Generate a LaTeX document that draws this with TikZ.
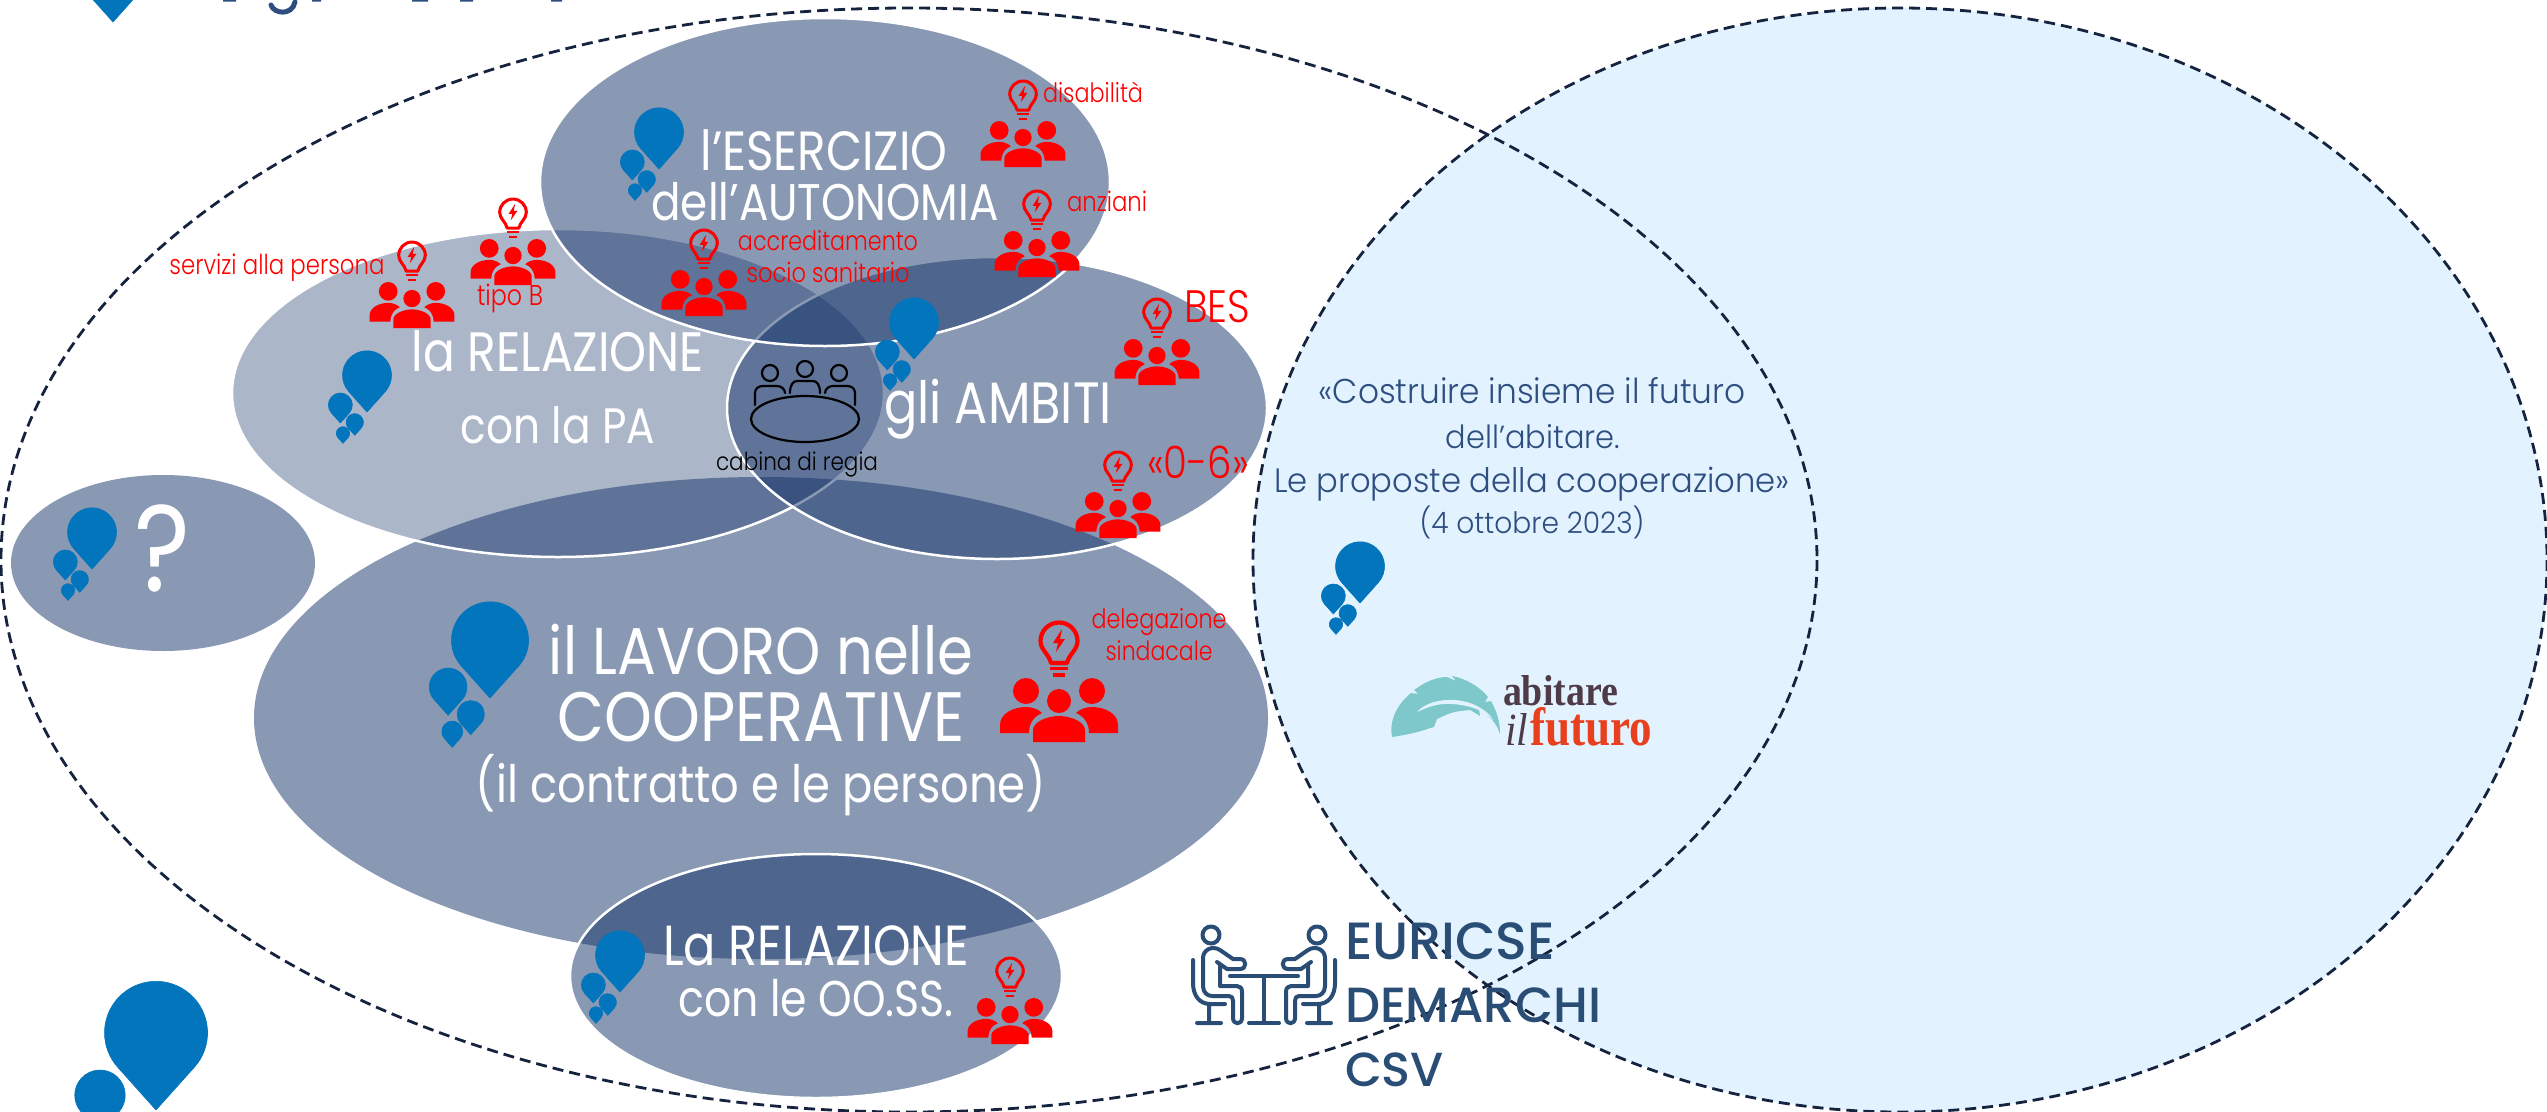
\documentclass[tikz,border=0pt]{standalone}
\usepackage{fontspec}
\usepackage{graphicx}
\setmainfont{Poppins}[UprightFont={* Light}]
\newfontfamily\medf{Poppins}[UprightFont={* Medium}]
\newfontfamily\regf{Poppins}[UprightFont={* Regular}]
\newfontfamily\serf{Liberation Serif}
\definecolor{blob}{HTML}{143369}
\definecolor{pincol}{HTML}{0275BD}
\definecolor{skyfill}{HTML}{E2F3FF}
\definecolor{dashcol}{HTML}{16233F}
\definecolor{deep}{HTML}{2A4D76}
\definecolor{thintext}{HTML}{2F4E80}
\definecolor{feather}{HTML}{7EC8CB}
\definecolor{abit}{HTML}{4F3B47}
\definecolor{futur}{HTML}{E8401F}
\tikzset{
  x=1pt,y=-1pt,
  blobshape/.style={fill=blob,fill opacity=#1,draw=white,draw opacity=1,line width=2.5pt},
  dashring/.style={draw=dashcol,line width=2.8pt,dash pattern=on 11pt off 6pt},
  txt/.style={anchor=base,inner sep=0pt,outer sep=0pt},
  wtxt/.style={txt,text=white},
  rtxt/.style={txt,text=red},
  btxt/.style={txt,text=thintext},
  dtxt/.style={txt,text=deep,anchor=base west},
  cab/.style={draw=black,line width=2.2pt,line cap=round,line join=round},
  meet/.style={draw=deep,line width=4pt,line cap=round,line join=round},
}
\newcommand{\onepin}{\path[fill=pincol,draw=pincol,line width=.6pt,line join=round] (0,0) -- (.372,-.415) arc[start angle=42,end angle=-222,radius=.5] -- cycle;}
\newcommand{\pinset}[3]{\begin{scope}[shift={(#1,#2)},scale=#3]
  \onepin
  \begin{scope}[shift={(-.544,.224)},scale=.49]\onepin\end{scope}
  \begin{scope}[shift={(-.25,.476)},scale=.354]\onepin\end{scope}
  \begin{scope}[shift={(-.49,.64)},scale=.272]\onepin\end{scope}
\end{scope}}
\newcommand{\ppl}[3]{\begin{scope}[shift={(#1,#2)},scale=#3]
  \fill[red] (-33,13) circle[radius=13] (33,13) circle[radius=13] (0,23) circle[radius=12];
  \fill[red] (-59,55) -- (-59,47) .. controls (-59,35) and (-45,29) .. (-33,29) .. controls (-27,29) and (-21,31) .. (-17,35) .. controls (-24,38) and (-30,44) .. (-30,55) -- cycle;
  \fill[red] (59,55) -- (59,47) .. controls (59,35) and (45,29) .. (33,29) .. controls (27,29) and (21,31) .. (17,35) .. controls (24,38) and (30,44) .. (30,55) -- cycle;
  \fill[red] (-26,64) -- (-26,52) .. controls (-26,44) and (-12,38) .. (0,38) .. controls (12,38) and (26,44) .. (26,52) -- (26,64) -- cycle;
  \draw[red,line width={#3*4.2pt},line join=round] (-8,-15) .. controls (-10,-24) and (-18.5,-28) .. (-18.5,-37) arc[start angle=180,end angle=360,radius=18.5] .. controls (18.5,-28) and (10,-24) .. (8,-15) -- cycle;
  \fill[red] (3,-49) -- (-6,-35) -- (-1,-35) -- (-3,-26) -- (6,-39) -- (1,-39) -- cycle;
  \draw[red,line width={#3*3.6pt}] (-9,-9.5) -- (9,-9.5) (-6,-3) -- (6,-3);
\end{scope}}
% name, x, baseline y, width, style, vertical stretch, text
\newcommand{\tx}[7]{\node[#5] (#1) at (#2,#3) {\resizebox{#4pt}{!}{\scalebox{1}[#6]{#7}}};}
\begin{document}
\begin{tikzpicture}
\useasboundingbox (0,0) rectangle (2547,1111);
\clip (0,0) rectangle (2547,1111);
\fill[white] (0,0) rectangle (2547,1111);

% large dashed ellipses
\path[dashring,fill=skyfill] (1900,560) ellipse[x radius=647,y radius=552];
\path[dashring] (909,560) ellipse[x radius=908,y radius=552];

% topic ellipses
\path[blobshape=.5,draw=none] (163,563) ellipse[x radius=152,y radius=88];
\path[blobshape=.5,draw=none] (761,718) ellipse[x radius=507,y radius=241];
\path[blobshape=.357] (558,393) ellipse[x radius=326,y radius=164];
\path[blobshape=.5] (997,408) ellipse[x radius=270,y radius=151];
\path[blobshape=.5] (825,182) ellipse[x radius=285,y radius=164];
\path[blobshape=.5] (816,976) ellipse[x radius=246,y radius=122];

% pins
\pinset{92}{569}{49}
\pinset{659}{169}{49}
\pinset{367}{412}{49}
\pinset{914}{359}{49}
\pinset{490}{698}{77}
\pinset{620}{992}{49}
\pinset{1360}{603}{49}
\pinset{156}{1110}{103}
\begin{scope}[shift={(113,22)},scale=80]\onepin\end{scope}

% cropped title remains
\draw[color=thintext,line width=5pt,line cap=round] (271,5) .. controls (274,14) and (292,16) .. (295,2);
\fill[thintext] (223,0) rectangle (236,1.5) (312,0) rectangle (321,1.5) (412,0) rectangle (428,1.5) (460,0) rectangle (473,1.5) (551,0) rectangle (562,1.5);

% white labels
\tx{t1}{824}{170}{247}{wtxt}{1.18}{\regf l’ESERCIZIO}
\tx{t2}{825}{220}{347}{wtxt}{1.18}{\regf dell’AUTONOMIA}
\tx{t3}{558}{371}{292}{wtxt}{1.18}{\regf la RELAZIONE}
\tx{t4}{558}{443}{194}{wtxt}{1.18}{\regf con la PA}
\tx{t5}{998}{423}{228}{wtxt}{1.18}{\regf gli AMBITI}
\tx{t6}{163}{591}{56}{wtxt}{1.15}{\regf ?}
\tx{t7}{761}{674}{424}{wtxt}{1.15}{\regf il LAVORO nelle}
\tx{t8}{761}{741}{407}{wtxt}{1.15}{\regf COOPERATIVE}
\tx{t9}{761}{802}{570}{wtxt}{1.15}{\regf (il contratto e le persone)}
\tx{t10}{816}{965}{306}{wtxt}{1.18}{\regf La RELAZIONE}
\tx{t11}{816}{1016}{275}{wtxt}{1.18}{\regf con le OO.SS.}

% red icons
\ppl{1023}{121}{.72}
\ppl{1037}{231}{.72}
\ppl{704}{270}{.72}
\ppl{513}{239}{.72}
\ppl{412}{282}{.72}
\ppl{1157}{339}{.72}
\ppl{1118}{492}{.72}
\ppl{1059}{678}{1}
\ppl{1010}{998}{.72}

% red labels
\tx{r1}{1093}{102}{100}{rtxt}{1.2}{disabilità}
\tx{r2}{1107}{211}{80}{rtxt}{1.2}{anziani}
\tx{r3}{828}{250}{180}{rtxt}{1.2}{accreditamento}
\tx{r4}{828}{282}{163}{rtxt}{1.2}{socio sanitario}
\tx{r5}{277}{274}{215}{rtxt}{1.2}{servizi alla persona}
\tx{r6}{510}{305}{66}{rtxt}{1.2}{tipo B}
\tx{r7}{1217}{322}{66}{rtxt}{1.15}{BES}
\tx{r8}{1198}{478}{102}{rtxt}{1.15}{«0-6»}
\tx{r9}{1159}{628}{135}{rtxt}{1.2}{delegazione}
\tx{r10}{1159}{660}{107}{rtxt}{1.2}{sindacale}

% cabina di regia icon
\draw[cab] (805,419) ellipse[x radius=54,y radius=23];
\draw[cab] (770,373) circle[radius=8] (805,369) circle[radius=8] (839,373) circle[radius=8];
\draw[cab] (755,405) -- (755,393) .. controls (755,388) and (759,386) .. (763,386) -- (777,386) .. controls (781,386) and (785,389) .. (785,393);
\draw[cab] (790,393) .. controls (790,385) and (793,381) .. (797,381) -- (813,381) .. controls (817,381) and (820,385) .. (820,393);
\draw[cab] (825,393) .. controls (825,389) and (829,386) .. (833,386) -- (847,386) .. controls (851,386) and (855,388) .. (855,393) -- (855,405);
\tx{c1}{797}{470}{162}{txt,text=black}{1.15}{cabina di regia}

% right hand text
\tx{b1}{1532}{403}{427}{btxt}{1.05}{«Costruire insieme il futuro}
\tx{b2}{1533}{448}{174}{btxt}{1.05}{dell’abitare.}
\tx{b3}{1532}{492}{515}{btxt}{1.05}{Le proposte della cooperazione»}
\tx{b4}{1532}{533}{225}{btxt}{1.05}{(4 ottobre 2023)}

% feather logo
\fill[feather] (1392,737) .. controls (1389,722) and (1396,705) .. (1411,693) -- (1418,694) -- (1414,690) .. controls (1425,682) and (1436,677) .. (1447,677) -- (1456,681) -- (1452,676) .. controls (1468,679) and (1482,689) .. (1488,697) -- (1485,702) -- (1491,701) .. controls (1497,712) and (1500,722) .. (1500,734) .. controls (1496,722) and (1489,715) .. (1479,709) -- (1480,716) -- (1470,710) -- (1461,711) .. controls (1450,712) and (1444,716) .. (1437,719) -- (1434,727) -- (1430,728) .. controls (1420,732) and (1405,735) .. (1392,737) -- cycle;
\fill[skyfill] (1417,712) .. controls (1425,703) and (1440,699) .. (1455,700) .. controls (1470,701) and (1485,708) .. (1494,720) .. controls (1482,709) and (1468,705) .. (1452,704) .. controls (1438,703) and (1428,707) .. (1417,712) -- cycle;
\node[txt,text=abit,anchor=base west] (l1) at (1503,705) {\resizebox{115pt}{30pt}{\serf\bfseries abitare}};
\node[txt,text=abit,anchor=base west] (l2) at (1505,745) {\resizebox{23pt}{32pt}{\serf\itshape il}};
\node[txt,text=futur,anchor=base west] (l3) at (1530,745) {\resizebox{122pt}{38pt}{\serf\bfseries futuro}};

% meeting icon
\begin{scope}
\draw[meet] (1230,976) -- (1298,976) (1264,976) -- (1264,1023) (1249,1023) -- (1279,1023);
\draw[meet] (1193,960) -- (1193,983) .. controls (1193,996) and (1200,1004) .. (1210,1004) -- (1225,1004) (1209,1004) -- (1209,1023) (1197,1023) -- (1221,1023);
\draw[meet] (1211,935) circle[radius=8.5];
\draw[meet] (1217,962) -- (1227,969) -- (1240,969) .. controls (1247,969) and (1247,959) .. (1240,959) -- (1233,959) -- (1220,950) .. controls (1212,945) and (1203,950) .. (1203,958) -- (1203,986) .. controls (1203,992) and (1207,996) .. (1212,996) -- (1229,996) .. controls (1232,996) and (1233,998) .. (1233,1001) -- (1233,1018) .. controls (1233,1025) and (1242,1025) .. (1242,1018) -- (1242,992) .. controls (1242,988) and (1240,986) .. (1237,986) -- (1220,986) -- (1220,965);
\end{scope}
\begin{scope}[shift={(2528,0)},xscale=-1]
\draw[meet] (1193,960) -- (1193,983) .. controls (1193,996) and (1200,1004) .. (1210,1004) -- (1225,1004) (1209,1004) -- (1209,1023) (1197,1023) -- (1221,1023);
\draw[meet] (1211,935) circle[radius=8.5];
\draw[meet] (1217,962) -- (1227,969) -- (1240,969) .. controls (1247,969) and (1247,959) .. (1240,959) -- (1233,959) -- (1220,950) .. controls (1212,945) and (1203,950) .. (1203,958) -- (1203,986) .. controls (1203,992) and (1207,996) .. (1212,996) -- (1229,996) .. controls (1232,996) and (1233,998) .. (1233,1001) -- (1233,1018) .. controls (1233,1025) and (1242,1025) .. (1242,1018) -- (1242,992) .. controls (1242,988) and (1240,986) .. (1237,986) -- (1220,986) -- (1220,965);
\end{scope}
\tx{d1}{1345}{959}{210}{dtxt}{1}{\medf EURICSE}
\tx{d2}{1345}{1022}{256}{dtxt}{1}{\medf DEMARCHI}
\tx{d3}{1345}{1086}{99}{dtxt}{1}{\medf CSV}
\end{tikzpicture}
\end{document}
